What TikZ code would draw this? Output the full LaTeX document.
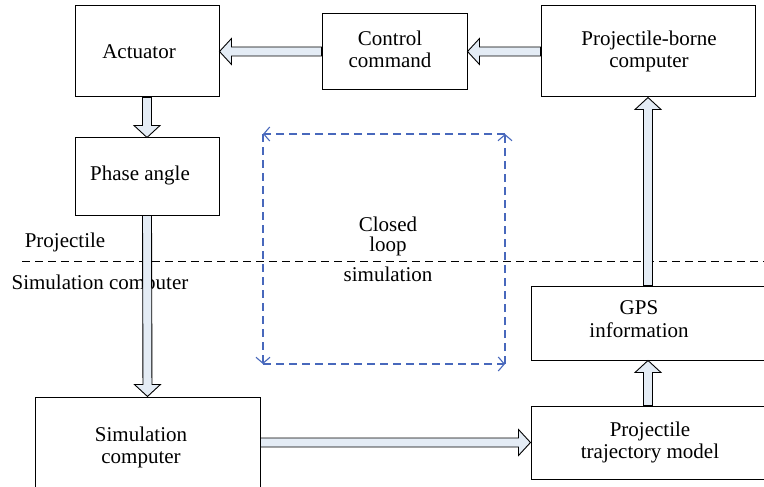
\documentclass[tikz,border=0pt]{standalone}
\usepackage{fontspec}
\setmainfont{Liberation Serif}
\usetikzlibrary{calc,arrows.meta}
\definecolor{arrfill}{RGB}{228,236,245}
\definecolor{loopblue}{RGB}{72,104,188}
\tikzset{
  box/.style={draw=black, line width=1pt, inner sep=0pt, fill=white},
  txt/.style={inner sep=0pt, align=center, font=\fontsize{21}{22.5}\selectfont},
  blockarrow/.style={draw=black, line width=0.9pt, fill=arrfill, line join=miter},
  loopline/.style={draw=loopblue, line width=1.1pt, dash pattern=on 8pt off 5pt, -{Straight Barb[length=6pt,width=14pt]}},
  divider/.style={draw=black, line width=1pt, dash pattern=on 8pt off 5pt}
}
\newcommand{\blockarr}[2]{%
  \coordinate (ba-a) at #1;
  \coordinate (ba-b) at #2;
  \coordinate (ba-h) at ($(ba-b)!12pt!(ba-a)$);
  \draw[blockarrow] ($(ba-a)!4.5pt!90:(ba-b)$) -- ($(ba-h)!4.5pt!-90:(ba-a)$)
    -- ($(ba-h)!13pt!-90:(ba-a)$) -- (ba-b) -- ($(ba-h)!13pt!90:(ba-a)$)
    -- ($(ba-h)!4.5pt!90:(ba-a)$) -- ($(ba-a)!4.5pt!-90:(ba-b)$) -- cycle;
}
\begin{document}
\begin{tikzpicture}[x=1pt,y=-1pt]
\clip (0,0) rectangle (764,487);
\fill[white] (0,0) rectangle (764,487);

% boxes
\node[box, minimum width=144pt, minimum height=91pt] (act) at (147,51.5) {};
\node[box, minimum width=145pt, minimum height=76pt] (cc) at (394.5,51.5) {};
\node[box, minimum width=214pt, minimum height=91pt] (pbc) at (648,51.5) {};
\node[box, minimum width=144pt, minimum height=77pt] (ph) at (147,176.5) {};
\node[box, minimum width=225pt, minimum height=120pt] (sim) at (147.5,457) {};
\node[box, minimum width=259pt, minimum height=74pt] (gps) at (660.5,323) {};
\node[box, minimum width=259pt, minimum height=73pt] (ptm) at (660.5,442.5) {};

% texts
\node[txt] (actT) at (139,52) {Actuator};
\node[txt] (ccT) at (390,49.5) {Control\\command};
\node[txt] (pbcT) at (649,51.5) {Projectile-borne\\computer};
\node[txt] (phT) at (140,175) {Phase angle};
\node[txt] (simT) at (141,447.5) {Simulation\\computer};
\node[txt] (gpsT) at (639,319) {GPS\\information};
\node[txt] (ptmT) at (650,442.5) {Projectile\\trajectory model};

% divider
\coordinate (dl) at (22,261);
\coordinate (dr) at (764,261);
\draw[divider] (dl) -- (dr);
\node[txt] (projL) at (65,242) {Projectile};
\node[txt] (simL) at (100,284) {Simulation computer};

% block arrows
\blockarr{(cc.west)}{(act.east)}
\blockarr{(pbc.west)}{(cc.east)}
\blockarr{(act.south)}{(ph.north)}
\blockarr{(ph.south)}{(sim.north)}
\blockarr{(sim.east |- ptm.west)}{(ptm.west)}
\blockarr{(ptm.north -| pbc.south)}{(gps.south -| pbc.south)}
\blockarr{(gps.north -| pbc.south)}{(pbc.south)}

% closed loop
\coordinate (lt) at (263,134);
\coordinate (rt) at (505,134);
\coordinate (lb) at (263,364);
\coordinate (rb) at (505,364);
\draw[loopline] (rb) -- (rt);
\draw[loopline] (rt) -- (lt);
\draw[loopline] (lt) -- (lb);
\draw[loopline] (lb) -- (rb);
\node[txt, font=\fontsize{21}{20}\selectfont] (loopT) at (388,249.5) {Closed\\loop\\[10pt]simulation};
\end{tikzpicture}
\end{document}
